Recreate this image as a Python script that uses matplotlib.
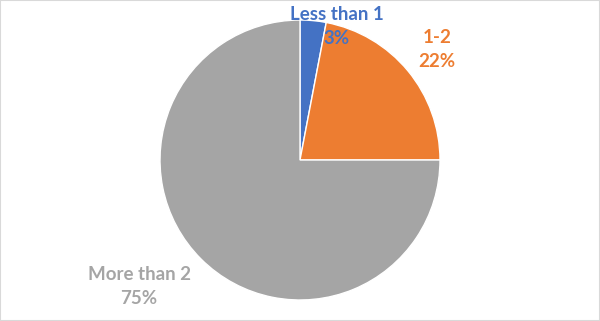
import matplotlib
matplotlib.use("Agg")
import matplotlib.pyplot as plt
from matplotlib.patches import Rectangle

categories = ["Less than 1", "1-2", "More than 2"]
values = [3, 22, 75]
colors = ["#4472C4", "#ED7D31", "#A5A5A5"]
label_text = ["Less than 1\n3%", "1-2\n22%", "More than 2\n75%"]
label_pos = [(0.26, 0.957), (0.979, 0.786), (-1.15, -0.903)]

fig = plt.figure(figsize=(6.0, 3.21), dpi=100)
ax = fig.add_axes([0, 0, 1, 1])
ax.pie(values, colors=colors, startangle=90, counterclock=False, radius=1.0,
       wedgeprops=dict(edgecolor="white", linewidth=1))
ax.set_xlim(-300 / 140, 300 / 140)
ax.set_ylim(-161 / 140, 160 / 140)
ax.set_aspect("auto")
ax.axis("off")

for txt, (x, y), c in zip(label_text, label_pos, colors):
    ax.text(x, y, txt, ha="center", va="center", color=c, fontsize=13.5,
            fontweight="bold", family=["Lato", "DejaVu Sans"], linespacing=1.5)

fig.patches.append(Rectangle((0, 0), 1, 1, transform=fig.transFigure, fill=False,
                             edgecolor="#D9D9D9", linewidth=1.5))
fig.savefig("out.png", dpi=100)
